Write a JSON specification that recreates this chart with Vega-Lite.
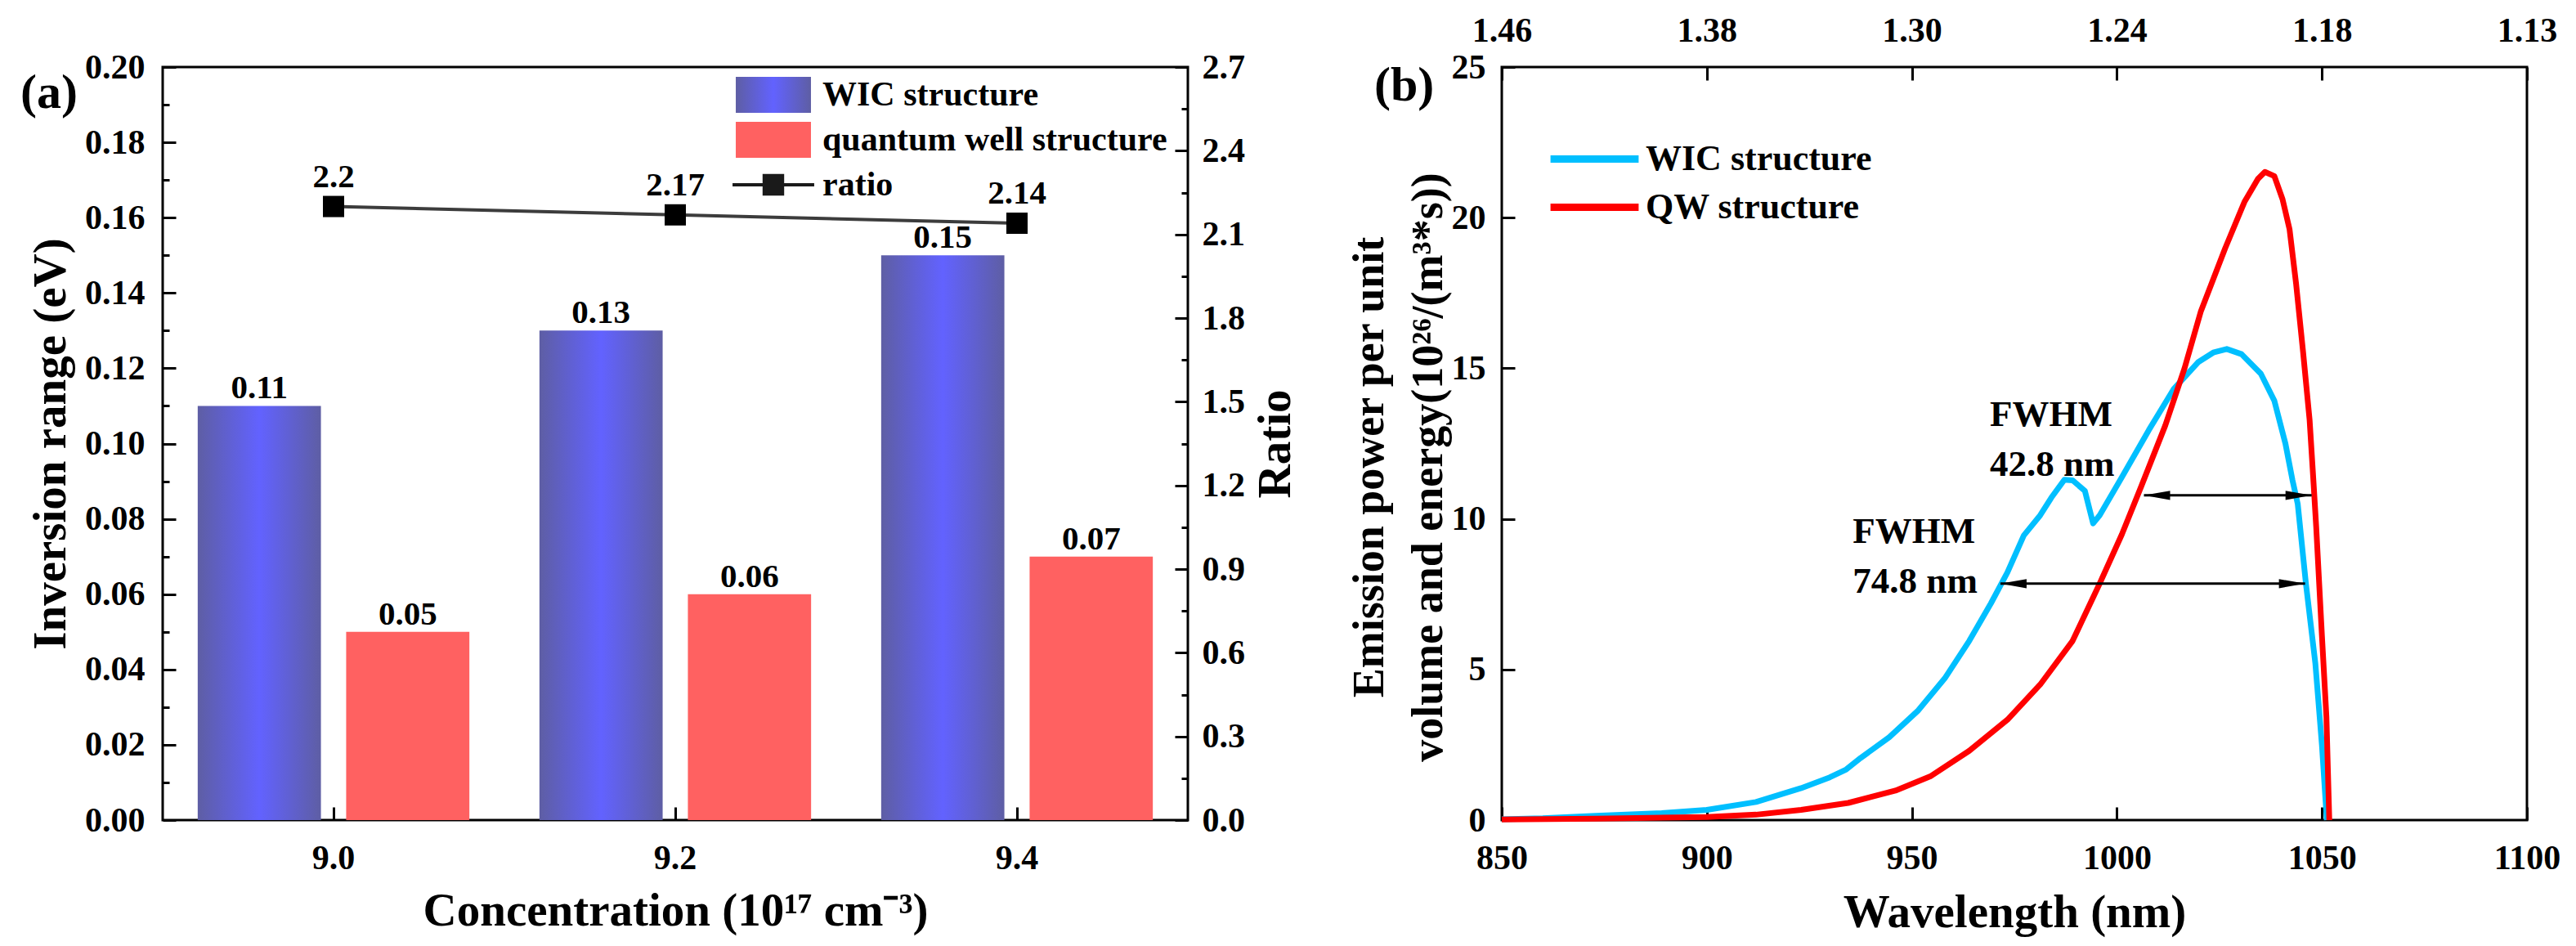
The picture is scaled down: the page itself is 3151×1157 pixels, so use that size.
{
  "$schema": "https://vega.github.io/schema/vega-lite/v6.json",
  "padding": {"left": 23, "top": 14, "right": 20, "bottom": 10},
  "background": "white",
  "spacing": 384,
  "bounds": "flush",
  "config": {
    "font": "Liberation Serif",
    "view": {"stroke": "black", "strokeWidth": 3},
    "axis": {
      "labelFont": "Liberation Serif", "labelFontWeight": "bold", "labelFontSize": 42, "labelColor": "black",
      "titleFont": "Liberation Serif", "titleFontWeight": "bold", "titleFontSize": 57, "titleColor": "black",
      "domain": false, "tickColor": "black", "tickWidth": 3, "tickSize": 16, "offset": -16,
      "grid": true, "gridOpacity": 0, "labelFlush": false, "labelOverlap": false
    },
    "legend": {"labelFont": "Liberation Serif", "labelFontWeight": "bold", "labelColor": "black", "padding": 0},
    "text": {"font": "Liberation Serif", "fontWeight": "bold", "color": "black"},
    "title": {"font": "Liberation Serif", "fontWeight": "bold", "fontSize": 60, "color": "black"}
  },
  "resolve": {"scale": {"color": "independent", "shape": "independent"}},
  "datasets": {
    "bars": [
      {"conc": "9.0", "series": "WIC structure", "eV": 0.11},
      {"conc": "9.0", "series": "quantum well structure", "eV": 0.05},
      {"conc": "9.2", "series": "WIC structure", "eV": 0.13},
      {"conc": "9.2", "series": "quantum well structure", "eV": 0.06},
      {"conc": "9.4", "series": "WIC structure", "eV": 0.15},
      {"conc": "9.4", "series": "quantum well structure", "eV": 0.07}
    ],
    "ratio": [
      {"conc": "9.0", "ratio": 2.2, "label": "2.2"},
      {"conc": "9.2", "ratio": 2.17, "label": "2.17"},
      {"conc": "9.4", "ratio": 2.14, "label": "2.14"}
    ],
    "curves": [
      {"series": "WIC structure", "wl": 850, "p": 0.03},
      {"series": "WIC structure", "wl": 860, "p": 0.06},
      {"series": "WIC structure", "wl": 873, "p": 0.14},
      {"series": "WIC structure", "wl": 889, "p": 0.23},
      {"series": "WIC structure", "wl": 900, "p": 0.34},
      {"series": "WIC structure", "wl": 912, "p": 0.6},
      {"series": "WIC structure", "wl": 923, "p": 1.06},
      {"series": "WIC structure", "wl": 930, "p": 1.42},
      {"series": "WIC structure", "wl": 934, "p": 1.68},
      {"series": "WIC structure", "wl": 937.5, "p": 2.06},
      {"series": "WIC structure", "wl": 944.5, "p": 2.75},
      {"series": "WIC structure", "wl": 951.4, "p": 3.62},
      {"series": "WIC structure", "wl": 958, "p": 4.7},
      {"series": "WIC structure", "wl": 964, "p": 5.95},
      {"series": "WIC structure", "wl": 969.3, "p": 7.2},
      {"series": "WIC structure", "wl": 973.3, "p": 8.22},
      {"series": "WIC structure", "wl": 977.3, "p": 9.45},
      {"series": "WIC structure", "wl": 981.3, "p": 10.12},
      {"series": "WIC structure", "wl": 984, "p": 10.7},
      {"series": "WIC structure", "wl": 987.2, "p": 11.3},
      {"series": "WIC structure", "wl": 989.2, "p": 11.28},
      {"series": "WIC structure", "wl": 992.2, "p": 10.93},
      {"series": "WIC structure", "wl": 994.2, "p": 9.85},
      {"series": "WIC structure", "wl": 995.8, "p": 10.12},
      {"series": "WIC structure", "wl": 1001.2, "p": 11.38},
      {"series": "WIC structure", "wl": 1007.8, "p": 12.95},
      {"series": "WIC structure", "wl": 1013.8, "p": 14.3},
      {"series": "WIC structure", "wl": 1019.8, "p": 15.2},
      {"series": "WIC structure", "wl": 1023.5, "p": 15.52},
      {"series": "WIC structure", "wl": 1026.8, "p": 15.64},
      {"series": "WIC structure", "wl": 1030.4, "p": 15.47},
      {"series": "WIC structure", "wl": 1035.1, "p": 14.82},
      {"series": "WIC structure", "wl": 1038.4, "p": 13.92},
      {"series": "WIC structure", "wl": 1041.1, "p": 12.5},
      {"series": "WIC structure", "wl": 1042.8, "p": 11.3},
      {"series": "WIC structure", "wl": 1044.1, "p": 10.5},
      {"series": "WIC structure", "wl": 1046.1, "p": 7.85},
      {"series": "WIC structure", "wl": 1048.4, "p": 5.2},
      {"series": "WIC structure", "wl": 1050, "p": 2.5},
      {"series": "WIC structure", "wl": 1051.2, "p": 0},
      {"series": "QW structure", "wl": 850, "p": 0.02},
      {"series": "QW structure", "wl": 873, "p": 0.05},
      {"series": "QW structure", "wl": 900, "p": 0.1},
      {"series": "QW structure", "wl": 912, "p": 0.18},
      {"series": "QW structure", "wl": 923, "p": 0.34},
      {"series": "QW structure", "wl": 934.5, "p": 0.57},
      {"series": "QW structure", "wl": 946, "p": 0.98},
      {"series": "QW structure", "wl": 954.5, "p": 1.45},
      {"series": "QW structure", "wl": 964, "p": 2.3},
      {"series": "QW structure", "wl": 973.3, "p": 3.33},
      {"series": "QW structure", "wl": 981.3, "p": 4.5},
      {"series": "QW structure", "wl": 989.2, "p": 5.95},
      {"series": "QW structure", "wl": 995.8, "p": 7.85},
      {"series": "QW structure", "wl": 1001.2, "p": 9.48},
      {"series": "QW structure", "wl": 1006, "p": 11.1},
      {"series": "QW structure", "wl": 1011.8, "p": 13.1},
      {"series": "QW structure", "wl": 1016.5, "p": 15.0},
      {"series": "QW structure", "wl": 1020.5, "p": 16.9},
      {"series": "QW structure", "wl": 1026.4, "p": 18.98},
      {"series": "QW structure", "wl": 1031.1, "p": 20.52},
      {"series": "QW structure", "wl": 1034.4, "p": 21.29},
      {"series": "QW structure", "wl": 1036.1, "p": 21.52},
      {"series": "QW structure", "wl": 1038.4, "p": 21.38},
      {"series": "QW structure", "wl": 1040.4, "p": 20.61},
      {"series": "QW structure", "wl": 1042.1, "p": 19.62},
      {"series": "QW structure", "wl": 1043.7, "p": 17.81},
      {"series": "QW structure", "wl": 1045.4, "p": 15.55},
      {"series": "QW structure", "wl": 1047, "p": 13.28},
      {"series": "QW structure", "wl": 1048, "p": 11.1},
      {"series": "QW structure", "wl": 1048.6, "p": 9.75},
      {"series": "QW structure", "wl": 1050, "p": 6.13},
      {"series": "QW structure", "wl": 1051.1, "p": 3.42},
      {"series": "QW structure", "wl": 1051.8, "p": 0}
    ],
    "arrows": [
      {"arrow": "WIC", "end": "left", "wl": 971.6, "p": 7.85},
      {"arrow": "WIC", "end": "right", "wl": 1045.9, "p": 7.85},
      {"arrow": "QW", "end": "left", "wl": 1006.6, "p": 10.78},
      {"arrow": "QW", "end": "right", "wl": 1047.5, "p": 10.78}
    ],
    "notes": [
      {"label": "FWHM", "wl": 969, "p": 13.47},
      {"label": "42.8 nm", "wl": 969, "p": 11.8},
      {"label": "FWHM", "wl": 935.6, "p": 9.58},
      {"label": "74.8 nm", "wl": 935.6, "p": 7.92}
    ]
  },
  "hconcat": [
    {
      "width": 1254,
      "height": 921,
      "title": {"text": "(a)", "anchor": "start", "frame": "group", "orient": "top", "offset": 0, "baseline": "alphabetic", "dx": -174, "dy": 131},
      "layer": [
        {
          "data": {"name": "bars"},
          "encoding": {
            "x": {"field": "conc", "type": "nominal", "scale": {"domain": ["9.0", "9.2", "9.4"], "paddingInner": 0, "paddingOuter": 0},
                  "axis": {"orient": "bottom", "title": "Concentration (10¹⁷ cm⁻³)", "labelAngle": 0, "labelPadding": 26, "titlePadding": 16}},
            "y": {"field": "eV", "type": "quantitative", "scale": {"domain": [0, 0.2], "nice": false, "zero": true},
                  "axis": {"orient": "left", "title": "Inversion range (eV)", "values": [0, 0.02, 0.04, 0.06, 0.08, 0.1, 0.12, 0.14, 0.16, 0.18, 0.2], "format": ".2f", "labelPadding": 22, "titlePadding": 12}},
            "xOffset": {"field": "series", "type": "nominal", "scale": {"domain": ["WIC structure", "quantum well structure"], "paddingInner": 0.17, "paddingOuter": 0.236}}
          },
          "layer": [
            {
              "transform": [{"filter": "datum.series == 'WIC structure'"}],
              "mark": {"type": "bar", "color": {"gradient": "linear", "x1": 0, "y1": 0, "x2": 1, "y2": 0,
                "stops": [{"offset": 0, "color": "#5e5ea4"}, {"offset": 0.5, "color": "#6262ff"}, {"offset": 1, "color": "#5e5ea4"}]}}
            },
            {
              "transform": [{"filter": "datum.series == 'quantum well structure'"}],
              "mark": {"type": "bar", "color": "#ff6161"}
            },
            {
              "mark": {"type": "text", "baseline": "alphabetic", "dy": -9, "fontSize": 41},
              "encoding": {"text": {"field": "eV", "type": "quantitative", "format": ".2f"}}
            },
            {
              "mark": {"type": "point", "filled": true, "opacity": 0, "strokeWidth": 0,
                "fill": {"expr": "datum.value == 'WIC structure' ? {gradient: 'linear', x1: 0, y1: 0, x2: 1, y2: 0, stops: [{offset: 0, color: '#5e5ea4'}, {offset: 0.5, color: '#6262ff'}, {offset: 1, color: '#5e5ea4'}]} : (datum.value == 'ratio' ? '#1a1a1a' : '#ff6161')"}},
              "encoding": {
                "shape": {"field": "series", "type": "nominal",
                  "scale": {"domain": ["WIC structure", "quantum well structure", "ratio"],
                            "range": ["M-2.09,-1H2.09V1H-2.09Z", "M-2.09,-1H2.09V1H-2.09Z", "M-2.27,-0.09H2.27V0.09H-2.27Z M-0.6,-0.6H0.6V0.6H-0.6Z"]},
                  "legend": {"orient": "none", "legendX": 725, "legendY": 12, "title": null, "symbolSize": 1936, "symbolStrokeWidth": 0,
                             "symbolOpacity": 1, "labelFontSize": 42, "labelOffset": 38, "rowPadding": 11, "padding": 0, "labelLimit": 1000}}
              }
            }
          ]
        },
        {
          "data": {"name": "bars"},
          "mark": {"type": "point", "opacity": 0},
          "encoding": {
            "x": {"field": "conc", "type": "nominal"},
            "y": {"field": "eV", "type": "quantitative", "scale": {"domain": [0, 0.2], "nice": false},
                  "axis": {"orient": "left", "title": null, "labels": false, "tickSize": 8, "offset": -8,
                           "values": [0.01, 0.03, 0.05, 0.07, 0.09, 0.11, 0.13, 0.15, 0.17, 0.19]}}
          }
        },
        {
          "data": {"name": "ratio"},
          "encoding": {
            "x": {"field": "conc", "type": "nominal"},
            "y": {"field": "ratio", "type": "quantitative", "scale": {"domain": [0, 2.7], "nice": false},
                  "axis": {"orient": "right", "title": "Ratio", "values": [0, 0.3, 0.6, 0.9, 1.2, 1.5, 1.8, 2.1, 2.4, 2.7], "format": ".1f",
                           "labelPadding": 17, "titlePadding": 10, "titleAngle": 270, "titleBaseline": "top"}}
          },
          "layer": [
            {"mark": {"type": "line", "color": "#3c3c3c", "strokeWidth": 4}},
            {"mark": {"type": "point", "shape": "square", "filled": true, "color": "black", "size": 676, "opacity": 1}},
            {"mark": {"type": "text", "baseline": "alphabetic", "dy": -24, "fontSize": 41}, "encoding": {"text": {"field": "label"}}}
          ]
        },
        {
          "data": {"name": "ratio"},
          "mark": {"type": "point", "opacity": 0},
          "encoding": {
            "x": {"field": "conc", "type": "nominal"},
            "y": {"field": "ratio", "type": "quantitative", "scale": {"domain": [0, 2.7], "nice": false},
                  "axis": {"orient": "right", "title": null, "labels": false, "tickSize": 8, "offset": -8,
                           "values": [0.15, 0.45, 0.75, 1.05, 1.35, 1.65, 1.95, 2.25, 2.55]}}
          }
        }
      ],
      "resolve": {"scale": {"y": "independent"}, "axis": {"y": "independent"}}
    },
    {
      "width": 1254,
      "height": 921,
      "title": {"text": "(b)", "anchor": "start", "frame": "group", "orient": "top", "offset": 0, "baseline": "alphabetic", "dx": -156, "dy": 167},
      "layer": [
        {
          "encoding": {
            "x": {"field": "wl", "type": "quantitative", "scale": {"domain": [850, 1100], "nice": false, "zero": false},
                  "axis": {"orient": "bottom", "title": "Wavelength (nm)", "values": [850, 900, 950, 1000, 1050, 1100], "format": "d", "labelPadding": 26, "titlePadding": 18}},
            "y": {"field": "p", "type": "quantitative", "scale": {"domain": [0, 25], "nice": false},
                  "axis": {"orient": "left", "title": ["Emission power per unit", "volume and energy(10²⁶/(m³*s))"], "values": [0, 5, 10, 15, 20, 25], "format": "d",
                           "labelPadding": 20, "titlePadding": 1, "titleLineHeight": 72, "titleFontSize": 54, "titleY": 489}}
          },
          "layer": [
            {
              "data": {"name": "curves"},
              "mark": {"type": "line", "strokeWidth": 7, "strokeJoin": "round"},
              "encoding": {
                "color": {"field": "series", "type": "nominal",
                  "scale": {"domain": ["WIC structure", "QW structure"], "range": ["#00bfff", "#ff0000"]},
                  "legend": {"orient": "none", "legendX": 87, "legendY": 86, "title": null, "symbolType": "M-2.45,0H2.45", "symbolSize": 1936,
                             "symbolStrokeWidth": 9, "labelFontSize": 44, "labelOffset": 36, "rowPadding": 10, "padding": 0, "labelLimit": 1000}}
              }
            },
            {
              "data": {"name": "arrows"},
              "mark": {"type": "line", "color": "black", "strokeWidth": 3},
              "encoding": {"detail": {"field": "arrow", "type": "nominal"}}
            },
            {
              "data": {"name": "arrows"},
              "transform": [{"filter": "datum.end == 'left'"}],
              "mark": {"type": "point", "shape": "M0,0L2,-0.35L2,0.35Z", "filled": true, "color": "black", "size": 1024, "opacity": 1}
            },
            {
              "data": {"name": "arrows"},
              "transform": [{"filter": "datum.end == 'right'"}],
              "mark": {"type": "point", "shape": "M0,0L-2,-0.35L-2,0.35Z", "filled": true, "color": "black", "size": 1024, "opacity": 1}
            },
            {
              "data": {"name": "notes"},
              "mark": {"type": "text", "align": "left", "baseline": "middle", "fontSize": 45},
              "encoding": {"text": {"field": "label"}}
            }
          ]
        },
        {
          "data": {"name": "notes"},
          "mark": {"type": "point", "opacity": 0},
          "encoding": {
            "x": {"field": "wl", "type": "quantitative", "scale": {"domain": [850, 1100], "nice": false, "zero": false},
                  "axis": {"orient": "top", "title": null, "values": [850, 900, 950, 1000, 1050, 1100], "labelPadding": 23,
                           "labelExpr": "datum.value == 850 ? '1.46' : datum.value == 900 ? '1.38' : datum.value == 950 ? '1.30' : datum.value == 1000 ? '1.24' : datum.value == 1050 ? '1.18' : '1.13'"}},
            "y": {"field": "p", "type": "quantitative"}
          }
        }
      ],
      "resolve": {"axis": {"x": "independent"}}
    }
  ]
}
